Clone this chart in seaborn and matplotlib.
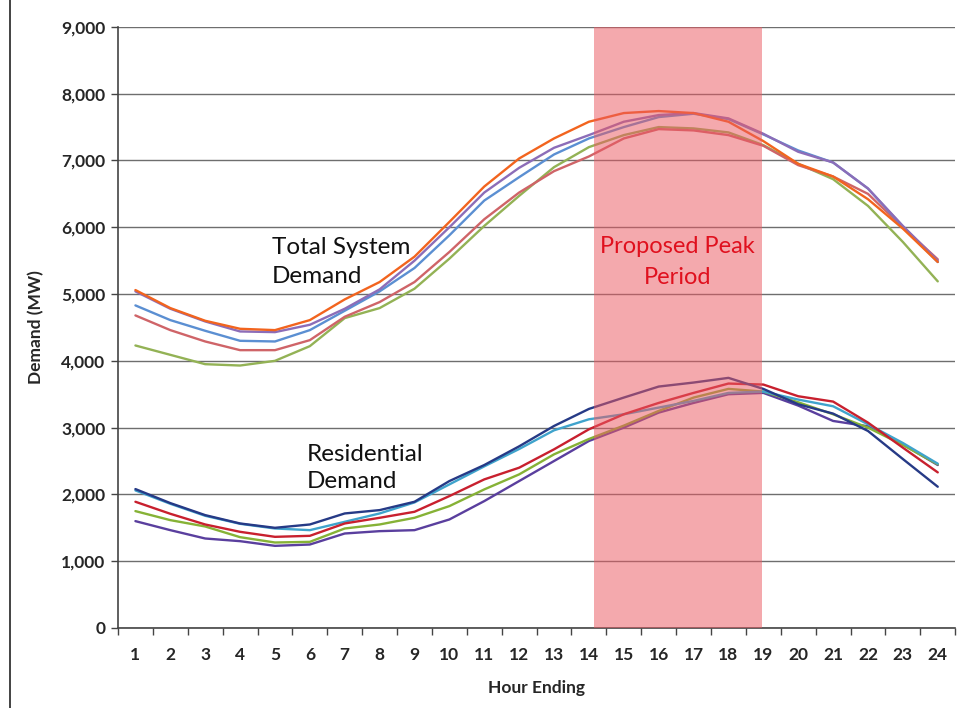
import pandas as pd
import numpy as np
import matplotlib.pyplot as plt
import matplotlib.lines as mlines
import seaborn as sns


# ==========================================
# DATA
# ==========================================

hours = list(range(1, 25))

# total system demand, five days
total_orange = [5060, 4790, 4600, 4480, 4460, 4610, 4920, 5180, 5560, 6080,
                6610, 7030, 7330, 7580, 7710, 7740, 7710, 7580, 7290, 6950,
                6760, 6420, 5980, 5480]
total_purple = [5040, 4780, 4590, 4440, 4430, 4540, 4780, 5070, 5500, 6000,
                6520, 6890, 7190, 7380, 7580, 7680, 7710, 7630, 7400, 7130,
                6970, 6580, 6020, 5500]
total_blue = [4830, 4610, 4450, 4300, 4290, 4460, 4750, 5040, 5390, 5880,
              6400, 6750, 7090, 7330, 7500, 7650, 7700, 7620, 7390, 7150,
              6970, 6580, 6010, 5480]
total_pink = [4680, 4460, 4290, 4160, 4160, 4310, 4660, 4880, 5180, 5630,
              6120, 6520, 6840, 7060, 7330, 7470, 7450, 7380, 7220, 6930,
              6760, 6500, 6000, 5520]
total_green = [4230, 4090, 3950, 3930, 4000, 4220, 4640, 4790, 5080, 5530,
               6020, 6470, 6900, 7200, 7380, 7500, 7480, 7420, 7230, 6950,
               6720, 6320, 5780, 5190]

# residential demand, five days
res_darkblue = [2080, 1870, 1690, 1565, 1500, 1550, 1715, 1765, 1890, 2200,
                2440, 2720, 3025, 3280, 3450, 3615, 3675, 3745, 3580, 3350,
                3210, 2950, 2530, 2115]
res_teal = [2060, 1860, 1680, 1560, 1490, 1465, 1590, 1715, 1880, 2150,
            2420, 2680, 2960, 3125, 3200, 3300, 3400, 3520, 3540, 3420,
            3320, 3050, 2770, 2460]
res_red = [1890, 1710, 1550, 1440, 1365, 1380, 1565, 1650, 1740, 1975,
           2225, 2400, 2675, 2975, 3200, 3370, 3520, 3660, 3645, 3470,
           3390, 3075, 2700, 2330]
res_green = [1750, 1615, 1520, 1360, 1280, 1290, 1490, 1550, 1650, 1825,
             2075, 2300, 2600, 2830, 3030, 3250, 3450, 3580, 3540, 3380,
             3200, 3000, 2740, 2450]
res_purple = [1600, 1465, 1340, 1300, 1230, 1250, 1415, 1450, 1465, 1625,
              1900, 2200, 2500, 2800, 3000, 3225, 3370, 3500, 3520, 3330,
              3100, 3020, 2750, 2440]

series_values = {
    "total_green": total_green,
    "total_pink": total_pink,
    "total_blue": total_blue,
    "total_purple": total_purple,
    "total_orange": total_orange,
    "res_purple": res_purple,
    "res_green": res_green,
    "res_teal": res_teal,
    "res_red": res_red,
    "res_darkblue": res_darkblue,
}

series_colors = {
    "total_green": "#93B255",
    "total_pink": "#CF6468",
    "total_blue": "#5B8FD2",
    "total_purple": "#8C6DB8",
    "total_orange": "#F2641E",
    "res_purple": "#5A3F9E",
    "res_green": "#86B236",
    "res_teal": "#3FA3CC",
    "res_red": "#C8202E",
    "res_darkblue": "#263A86",
}

y_ticks = list(range(0, 10000, 1000))
peak_start = 14.15
peak_end = 18.95


# ==========================================
# LONG FORM TABLE
# ==========================================

rows = []

for series_name, values in series_values.items():

    for hour, value in zip(hours, values):

        rows.append({
            "hour": hour,
            "demand": value,
            "series": series_name
        })

dataframe = pd.DataFrame(rows)


# ==========================================
# FIGURE
# ==========================================

sns.set_theme(style="white")

plt.rcParams["font.family"] = ["Lato", "DejaVu Sans"]

fig = plt.figure(figsize=(9.6, 7.08), dpi=100)

ax = fig.add_axes([0.1229, 0.113, 0.8721, 0.8490])

ax.set_axisbelow(True)

ax.grid(axis="y", color="#6E6E6E", linewidth=1.0)

sns.lineplot(
    data=dataframe,
    x="hour",
    y="demand",
    hue="series",
    hue_order=list(series_values.keys()),
    palette=series_colors,
    linewidth=1.7,
    legend=False,
    ax=ax
)

# peak period band, laid over the lines like the original shape
ax.axvspan(
    peak_start,
    peak_end,
    color="#EA5A63",
    alpha=0.52,
    linewidth=0,
    zorder=5
)

ax.set_xlim(0.5, 24.5)
ax.set_ylim(0, 9000)

ax.set_xticks(hours)
ax.set_xticklabels([str(h) for h in hours])
ax.set_xticks(np.arange(0.5, 25, 1), minor=True)
ax.tick_params(axis="x", which="major", length=0, pad=14,
               labelsize=12.5)
ax.tick_params(axis="x", which="minor", length=5, width=1,
               color="#444444", direction="out", bottom=True)

ax.set_yticks(y_ticks)
ax.set_yticklabels([f"{v:,}" for v in y_ticks])
ax.tick_params(axis="y", length=5, width=1, color="#444444",
               direction="out", left=True, labelsize=12.5, pad=4)

for label in ax.get_xticklabels() + ax.get_yticklabels():
    label.set_fontweight("bold")

for side in ["top", "right"]:
    ax.spines[side].set_visible(False)

ax.spines["left"].set_color("#444444")
ax.spines["bottom"].set_color("#444444")
ax.spines["left"].set_linewidth(1.2)
ax.spines["bottom"].set_linewidth(1.2)

ax.set_xlabel("Hour Ending", fontsize=12.5, fontweight="bold", labelpad=12)
ax.set_ylabel("Demand (MW)", fontsize=12.5, fontweight="bold", labelpad=12)


# ==========================================
# ANNOTATIONS
# ==========================================

note_size = 17.5

ax.text(4.92, 5600, "Total System", fontsize=note_size,
        color="#111111", va="baseline", ha="left", zorder=6)
ax.text(4.92, 5160, "Demand", fontsize=note_size,
        color="#111111", va="baseline", ha="left", zorder=6)

ax.text(5.9, 2500, "Residential", fontsize=note_size,
        color="#111111", va="baseline", ha="left", zorder=6)
ax.text(5.9, 2095, "Demand", fontsize=note_size,
        color="#111111", va="baseline", ha="left", zorder=6)

ax.text(16.55, 5615, "Proposed Peak", fontsize=17,
        color="#E0101E", va="baseline", ha="center", zorder=6)
ax.text(16.55, 5150, "Period", fontsize=17,
        color="#E0101E", va="baseline", ha="center", zorder=6)

# left border of the scanned page
fig.add_artist(mlines.Line2D([10 / 960, 10 / 960], [0, 1],
                             color="#222222", linewidth=1.2))

fig.savefig("out.png", dpi=100)
